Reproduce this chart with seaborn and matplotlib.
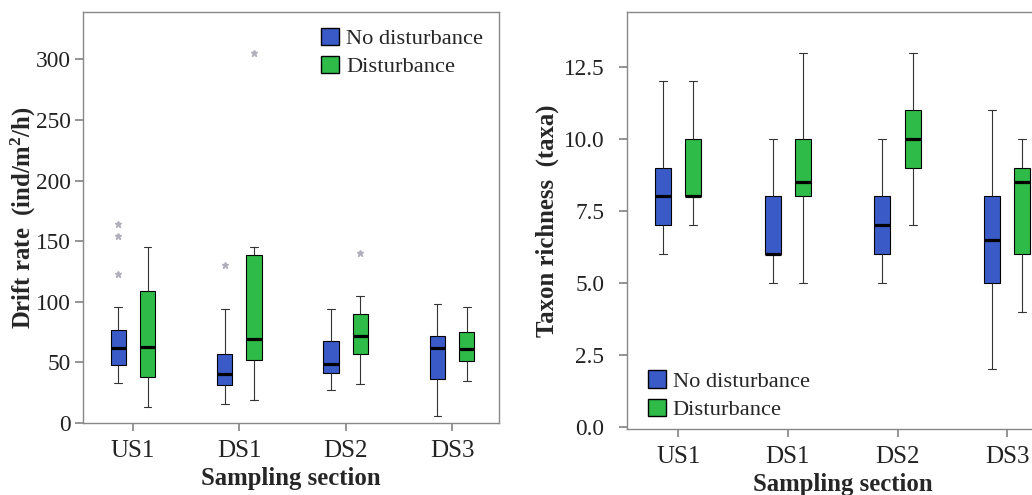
import numpy as np
import pandas as pd
import matplotlib
matplotlib.use("Agg")
import matplotlib.pyplot as plt
import seaborn as sns
from matplotlib.patches import Patch

sns.set_theme(style="white")
plt.rcParams['font.family'] = ['Liberation Serif', 'DejaVu Serif']

sections = ["US1", "DS1", "DS2", "DS3"]
groups = ["No disturbance", "Disturbance"]

# five-number summaries (whisker low, q1, median, q3, whisker high) per section
drift_nodist = [[33, 48, 62, 77, 96], [16, 31, 40, 57, 94],
                [27, 41, 49, 68, 94], [6, 36, 62, 72, 98]]
drift_dist = [[13, 38, 63, 109, 145], [19, 52, 69, 139, 145],
              [32, 57, 72, 90, 105], [35, 51, 61, 75, 96]]
# outliers: (section, group, value)
drift_outliers = [("US1", "No disturbance", 123), ("US1", "No disturbance", 154),
                  ("US1", "No disturbance", 164), ("DS1", "No disturbance", 130),
                  ("DS1", "Disturbance", 305), ("DS2", "Disturbance", 140)]

rich_nodist = [[6, 7, 8, 9, 12], [5, 6, 6, 8, 10],
               [5, 6, 7, 8, 10], [2, 5, 6.5, 8, 11]]
rich_dist = [[7, 8, 8, 10, 12], [5, 8, 8.5, 10, 13],
             [7, 9, 10, 11, 13], [4, 6, 8.5, 9, 10]]

colors = {"No disturbance": "#3a5bc7", "Disturbance": "#2fbb47"}
BOX_W = 0.55


def to_long(nodist, dist):
    rows = []
    for sec, a, b in zip(sections, nodist, dist):
        for v in a:
            rows.append((sec, groups[0], v))
        for v in b:
            rows.append((sec, groups[1], v))
    return pd.DataFrame(rows, columns=["section", "group", "value"])


def draw(ax, df):
    sns.boxplot(data=df, x="section", y="value", hue="group", order=sections,
                hue_order=groups, palette=colors, width=BOX_W, gap=0.47,
                whis=(0, 100), showfliers=False, linecolor="black", linewidth=0.8,
                saturation=1, medianprops={"linewidth": 2.3, "color": "black"},
                whiskerprops={"color": "#333333"}, capprops={"color": "#333333"},
                legend=False, ax=ax)


def style(ax, ypad):
    for s in ax.spines.values():
        s.set_color("#888888")
        s.set_linewidth(1.0)
    ax.tick_params(axis="both", which="both", direction="out", length=6,
                   color="#888888", labelcolor="#222222", bottom=True, left=True)
    ax.tick_params(axis="x", labelsize=18, pad=6)
    ax.tick_params(axis="y", labelsize=16.8, pad=ypad)
    ax.set_xlabel("Sampling section", fontsize=17.8, fontweight="bold", labelpad=4)


fig = plt.figure(figsize=(10.32, 4.95), dpi=100)
ax1 = fig.add_axes([0.0804, 0.1455, 0.403, 0.830])
ax2 = fig.add_axes([0.6076, 0.1333, 0.418, 0.842])

draw(ax1, to_long(drift_nodist, drift_dist))
out = pd.DataFrame(drift_outliers, columns=["section", "group", "value"])
xo = out["section"].map(sections.index) + out["group"].map(
    {groups[0]: -BOX_W / 4, groups[1]: BOX_W / 4})
ax1.plot(xo, out["value"], linestyle="none", marker="*", markersize=5,
         color="#b0b0bc")
ax1.set_xlim(-0.47, 3.44)
ax1.set_ylim(0, 339)
ax1.set_yticks([0, 50, 100, 150, 200, 250, 300])
ax1.set_ylabel("Drift rate  (ind/m$\\mathregular{^2}$/h)", fontsize=17.8,
               fontweight="bold", labelpad=-2)
style(ax1, 3)

draw(ax2, to_long(rich_nodist, rich_dist))
ax2.set_xlim(-0.467, 3.467)
ax2.set_ylim(-0.08, 14.4)
ax2.set_yticks([0, 2.5, 5, 7.5, 10, 12.5])
ax2.yaxis.set_major_formatter(matplotlib.ticker.FormatStrFormatter("%.1f"))
ax2.set_ylabel("Taxon richness  (taxa)", fontsize=17.8, fontweight="bold", labelpad=3)
style(ax2, 10.5)

handles = [Patch(facecolor=colors[g], edgecolor="black", linewidth=1.0, label=g)
           for g in groups]
ax1.legend(handles=handles, loc="upper right", frameon=False, fontsize=16.2,
           handlelength=0.8, handleheight=0.8, handletextpad=0.3,
           labelspacing=0.3, borderaxespad=0.3, bbox_to_anchor=(1.0, 1.0))
ax2.legend(handles=handles, loc="lower left", frameon=False, fontsize=16.2,
           handlelength=0.8, handleheight=0.8, handletextpad=0.3,
           labelspacing=0.3, borderaxespad=0.0, bbox_to_anchor=(0.028, 0.0))

fig.savefig("out.png", dpi=100)
